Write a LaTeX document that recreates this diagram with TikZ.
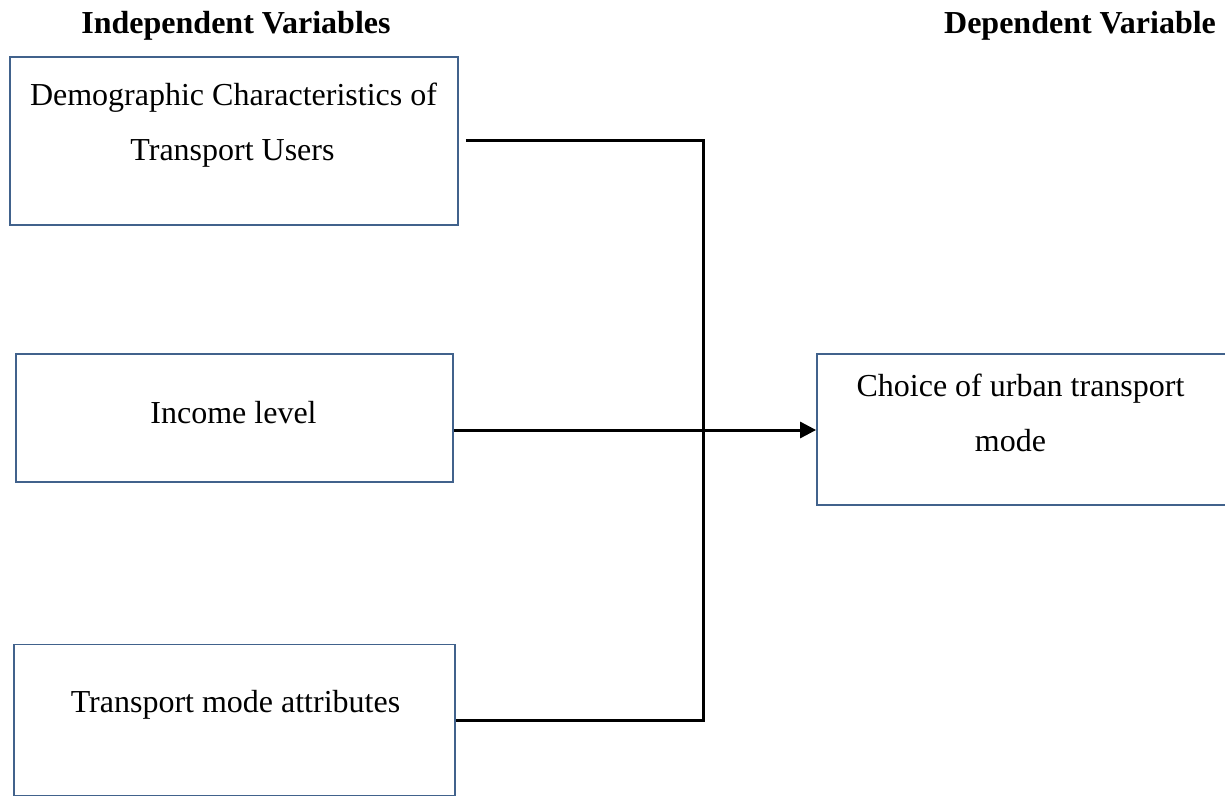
\documentclass[tikz,border=0pt]{standalone}
\usepackage{fontspec}
\setmainfont{Liberation Serif}
\usetikzlibrary{arrows.meta}
\definecolor{boxblue}{RGB}{65,98,140}
\begin{document}
\begin{tikzpicture}[x=0.5pt,y=-0.5pt,font=\fontsize{16pt}{19pt}\selectfont]
    \useasboundingbox (0,0) rectangle (1225,796);
    \begin{scope}[every node/.style={rectangle,draw=boxblue,line width=0.9pt,inner sep=0pt}]
      \node (demo)[minimum width=224pt,minimum height=84pt] at (234,141) {};
      \node (income)[minimum width=218.5pt,minimum height=64pt] at (234.5,418) {};
      \node (attr)[minimum width=220.5pt,minimum height=75.5pt] at (234.5,720) {};
      \node (choice)[minimum width=205pt,minimum height=75.5pt] at (1022,429.5) {};
    \end{scope}
    \node (indep)[anchor=base] at (236,34) {\bfseries Independent Variables};
    \node (dep)[anchor=base] at (1080,34) {\bfseries Dependent Variable};
    \node (demotxt1)[anchor=base] at (233.5,106) {Demographic Characteristics of};
    \node (demotxt2)[anchor=base] at (232.5,161) {Transport Users};
    \node (incometxt)[anchor=base] at (233.5,423) {Income level};
    \node (attrtxt)[anchor=base] at (235.5,712) {Transport mode attributes};
    \node (choicetxt1)[anchor=base] at (1020.5,396) {Choice of urban transport};
    \node (choicetxt2)[anchor=base] at (1010.5,451) {mode};
    \coordinate (jn) at (703,430);
    \begin{scope}[every path/.style={draw=black,line width=1.5pt}]
      \draw ([xshift=3.5pt]demo.east) -| (jn) |- (attr.east);
      \draw[-{Triangle[length=8pt,width=8pt]}] (income.east |- jn) -- (choice.west |- jn);
    \end{scope}
\end{tikzpicture}
\end{document}
